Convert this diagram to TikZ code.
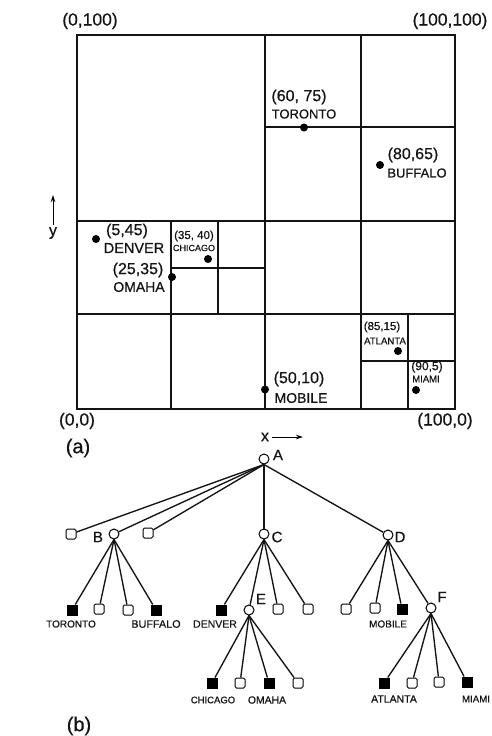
\documentclass[tikz,border=0pt]{standalone}
\usepackage{fontspec}
\setmainfont{Liberation Sans}
\usetikzlibrary{arrows.meta}
\begin{document}
\begin{tikzpicture}[x=1pt,y=-1pt,
  fs/.style={font=\fontsize{#1}{#1}\selectfont\addfontfeature{FakeBold=0.5},inner sep=0pt,text=black!92},
  gridline/.style={line width=1.4pt,draw=black!92},
  city/.style={circle,fill=black,minimum size=8pt,inner sep=0pt},
  branch/.style={circle,draw=black,fill=white,line width=1pt,minimum size=10pt,inner sep=0pt},
  emptyleaf/.style={rectangle,rounded corners=1.5pt,draw=black,fill=white,line width=1pt,minimum size=10pt,inner sep=0pt},
  fullleaf/.style={rectangle,draw=black,fill=black,line width=1pt,minimum size=10pt,inner sep=0pt},
  edge/.style={line width=1.35pt,draw=black!92},
  axisarrow/.style={line width=0.9pt,-{Stealth[length=7pt,width=4.5pt]}}]
\useasboundingbox (0,0) rectangle (491,736);
\fill[white] (0,0) rectangle (491,736);
% partition
\draw[gridline] (77,35) rectangle (455,409);
\draw[gridline] (265,35) -- (265,409);
\draw[gridline] (361,35) -- (361,409);
\draw[gridline] (265,127) -- (455,127);
\draw[gridline] (77,221) -- (455,221);
\draw[gridline] (77,314) -- (455,314);
\draw[gridline] (171,221) -- (171,409);
\draw[gridline] (218,221) -- (218,314);
\draw[gridline] (171,268) -- (265,268);
\draw[gridline] (408,314) -- (408,409);
\draw[gridline] (361,361) -- (455,361);
% cities
\node[city] (pToronto) at (304,127.5) {};
\node[city] (pBuffalo) at (380,165) {};
\node[city] (pDenver) at (96,239) {};
\node[city] (pChicago) at (208,259) {};
\node[city] (pOmaha) at (172,277) {};
\node[city] (pMobile) at (265,389.5) {};
\node[city] (pAtlanta) at (398,351) {};
\node[city] (pMiami) at (416,390) {};
% labels (a)
\node[fs=17.5] (c1) at (90,21) {(0,100)};
\node[fs=17.5] (c2) at (450,21) {(100,100)};
\node[fs=17.5] (c3) at (77,421) {(0,0)};
\node[fs=17.5] (c4) at (445,421) {(100,0)};
\node[fs=16] (l1) at (299,97) {(60, 75)};
\node[fs=13] (l2) at (304,114) {TORONTO};
\node[fs=16] (l3) at (413,155) {(80,65)};
\node[fs=13] (l4) at (417,173) {BUFFALO};
\node[fs=16] (l5) at (127,231) {(5,45)};
\node[fs=14.5] (l6) at (134,248) {DENVER};
\node[fs=11.5] (l7) at (194,236) {(35, 40)};
\node[fs=9] (l8) at (194,248) {CHICAGO};
\node[fs=16] (l9) at (138,270) {(25,35)};
\node[fs=14] (l10) at (139,287) {OMAHA};
\node[fs=16] (l11) at (299,379) {(50,10)};
\node[fs=14] (l12) at (301,398) {MOBILE};
\node[fs=11.5] (l13) at (382,327) {(85,15)};
\node[fs=9.6] (l14) at (385,341) {ATLANTA};
\node[fs=12] (l15) at (427,367) {(90,5)};
\node[fs=9.5] (l16) at (426,379) {MIAMI};
% axes
\node[fs=16] (yl) at (53,233) {y};
\coordinate (yb) at (53,225);
\coordinate (yt) at (53,195);
\draw[axisarrow] (yb) -- (yt);
\node[fs=16] (xl) at (265,437) {x};
\coordinate (xb) at (272,437);
\coordinate (xt) at (303,437);
\draw[axisarrow] (xb) -- (xt);
\node[fs=20] (capa) at (78,448) {(a)};
\node[fs=20] (capb) at (79,726) {(b)};
% tree nodes
\node[branch] (A) at (264,459) {};
\node[emptyleaf] (a1) at (71,534) {};
\node[branch] (B) at (114,534) {};
\node[emptyleaf] (a3) at (148,533) {};
\node[branch] (C) at (264,534) {};
\node[branch] (D) at (388,535) {};
\node[fullleaf] (b1) at (72,610) {};
\node[emptyleaf] (b2) at (99,609) {};
\node[emptyleaf] (b3) at (128,610) {};
\node[fullleaf] (b4) at (156,610) {};
\node[fullleaf] (c1n) at (221,610) {};
\node[branch] (E) at (249,610) {};
\node[emptyleaf] (c3n) at (278,609) {};
\node[emptyleaf] (c4n) at (308,609) {};
\node[emptyleaf] (d1) at (346,609) {};
\node[emptyleaf] (d2) at (375,608) {};
\node[fullleaf] (d3) at (402,609) {};
\node[branch] (F) at (431,608) {};
\node[fullleaf] (e1) at (212,683) {};
\node[emptyleaf] (e2) at (240,683) {};
\node[fullleaf] (e3) at (269,683) {};
\node[emptyleaf] (e4) at (298,683) {};
\node[fullleaf] (f1) at (384,683) {};
\node[emptyleaf] (f2) at (412,683) {};
\node[emptyleaf] (f3) at (439,682) {};
\node[fullleaf] (f4) at (467,682) {};
% edges
\foreach \p/\c in {A/a1,A/B,A/a3,A/C,A/D,B/b1,B/b2,B/b3,B/b4,C/c1n,C/E,C/c3n,C/c4n,D/d1,D/d2,D/d3,D/F,E/e1,E/e2,E/e3,E/e4,F/f1,F/f2,F/f3,F/f4}
  \draw[edge] (\p.south) -- (\c);
% tree labels
\node[fs=15] (tA) at (278,455) {A};
\node[fs=15] (tB) at (98,537) {B};
\node[fs=15] (tC) at (277,537) {C};
\node[fs=15] (tD) at (400,537) {D};
\node[fs=15] (tE) at (261,599) {E};
\node[fs=15] (tF) at (442,597) {F};
\node[fs=10] (n1) at (71,624) {TORONTO};
\node[fs=10.8] (n2) at (156,624) {BUFFALO};
\node[fs=10.5] (n3) at (215,624) {DENVER};
\node[fs=9.5] (n4) at (213,700) {CHICAGO};
\node[fs=10.4] (n5) at (267,700) {OMAHA};
\node[fs=10] (n6) at (388,624) {MOBILE};
\node[fs=10.5] (n7) at (394,699) {ATLANTA};
\node[fs=9.7] (n8) at (476,699) {MIAMI};
\end{tikzpicture}
\end{document}
